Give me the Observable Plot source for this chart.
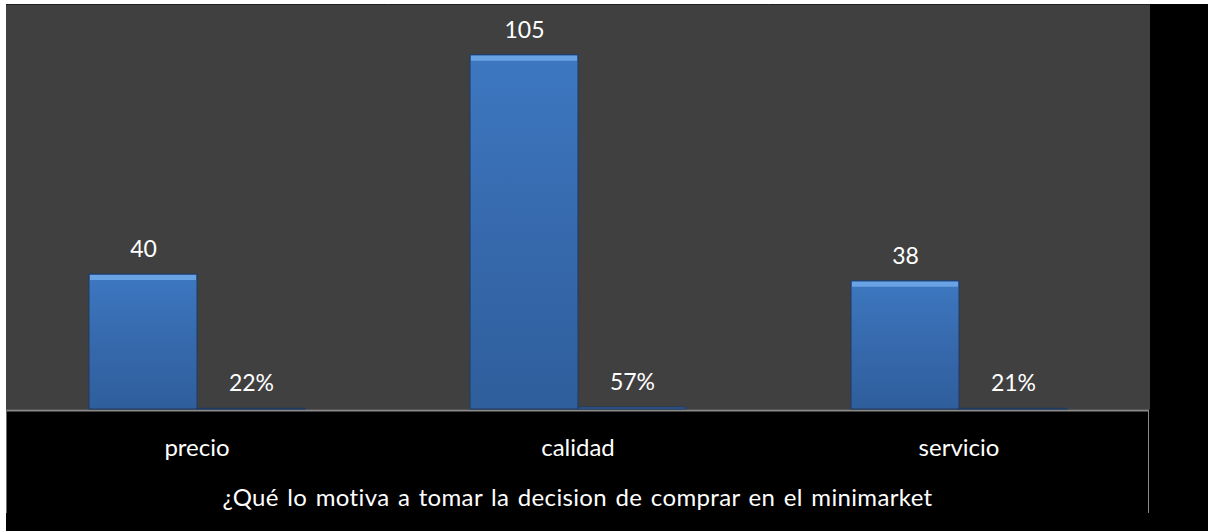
<!DOCTYPE html>
<html>
<head>
<meta charset="utf-8">
<script src="https://cdn.jsdelivr.net/npm/d3@7"></script>
<script src="https://cdn.jsdelivr.net/npm/@observablehq/plot@0.6"></script>
<style>
  html, body { margin: 0; padding: 0; background: #ffffff; }
  #wrap { position: absolute; left: 6px; top: 4px; width: 1202px; height: 527px; background: #000000; }
  #chart svg { display: block; }
  #edges { position: absolute; left: 0; top: 406px; width: 1141px; height: 103px;
           border-left: 1px solid #6a6a6a; border-right: 1px solid #8a8a8a; pointer-events: none; }
  #title { width: 1143px; height: 46px; padding-top: 6px; text-align: center; color: #ffffff;
           font-family: Lato, "Open Sans", sans-serif; font-size: 24px; line-height: 24px;
           word-spacing: 2px; letter-spacing: 0.35px; }
</style>
</head>
<body>
<div id="wrap">
  <div id="chart"></div>
  <div id="title"></div>
  <div id="edges"></div>
</div>
<script>
const categories = ["precio", "calidad", "servicio"];
const counts = [40, 105, 38];
const percents = [0.22, 0.57, 0.21];
const percentLabels = ["22%", "57%", "21%"];
const seriesNames = ["cantidad", "porcentaje"];
const titleText = "¿Qué lo motiva a tomar la decision de comprar en el minimarket";

const rows = [];
categories.forEach((c, i) => {
  rows.push({category: c, series: seriesNames[0], value: counts[i], label: String(counts[i])});
  rows.push({category: c, series: seriesNames[1], value: percents[i], label: percentLabels[i]});
});
const countRows = rows.filter(d => d.series === seriesNames[0]);

const plot = Plot.plot({
  width: 1202,
  height: 475,
  marginLeft: 0,
  marginRight: 59,
  marginTop: 0,
  marginBottom: 70,
  style: {background: "#000000", fontFamily: "Lato, 'Open Sans', sans-serif", color: "#ffffff"},
  fx: {domain: categories, padding: 0, label: null},
  x: {domain: seriesNames, paddingInner: 0, paddingOuter: 0.752, axis: null},
  y: {domain: [0, 120], axis: null},
  marks: [
    Plot.frame({fill: "#404040", stroke: "none", insetLeft: -0.5, insetRight: -0.5}),
    Plot.ruleY([0], {stroke: "#8a8a8a", strokeWidth: 2, dy: 1}),
    Plot.barY(rows, {fx: "category", x: "series", y: "value", fill: "url(#barGrad)", stroke: "#1e3a64", strokeWidth: 1}),
    Plot.tickY(countRows, {fx: "category", x: "series", y: "value", stroke: "#6aa3e4", strokeWidth: 5, dy: 3, insetLeft: 1, insetRight: 1}),
    Plot.text(rows, {fx: "category", x: "series", y: "value", text: "label", dy: -25, fill: "#ffffff", fontSize: 23}),
    Plot.axisFx({anchor: "bottom", tickSize: 0, tickPadding: 29, fontSize: 24, label: null, color: "#ffffff"})
  ]
});

const ns = "http://www.w3.org/2000/svg";
const defs = document.createElementNS(ns, "defs");
const grad = document.createElementNS(ns, "linearGradient");
grad.setAttribute("id", "barGrad");
grad.setAttribute("x1", "0"); grad.setAttribute("y1", "0");
grad.setAttribute("x2", "0"); grad.setAttribute("y2", "1");
[["0", "#3d78c0"], ["0.5", "#3669ad"], ["1", "#2f5e9c"]].forEach(([o, c]) => {
  const s = document.createElementNS(ns, "stop");
  s.setAttribute("offset", o); s.setAttribute("stop-color", c);
  grad.appendChild(s);
});
defs.appendChild(grad);
plot.insertBefore(defs, plot.firstChild);

document.getElementById("chart").appendChild(plot);
document.getElementById("title").textContent = titleText;
</script>
</body>
</html>
